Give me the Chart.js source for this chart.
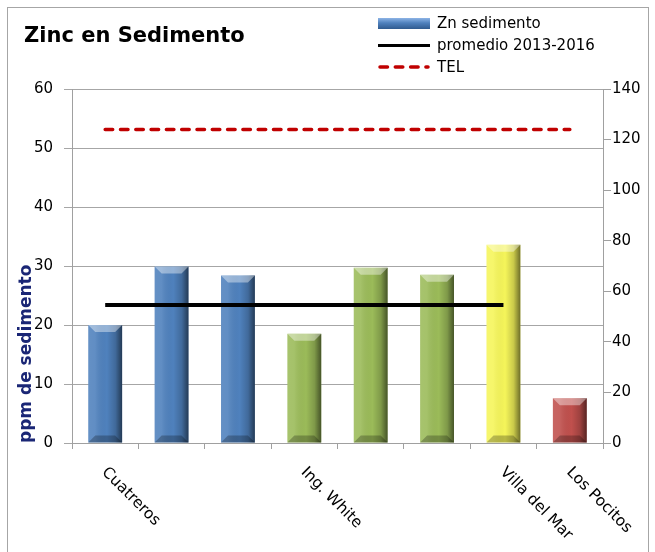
<!DOCTYPE html>
<html>
<head>
<meta charset="utf-8">
<script src="https://cdn.jsdelivr.net/npm/chart.js@4/dist/chart.umd.min.js"></script>
<style>
  body { margin: 0; background: #fff; }
  #wrap { position: relative; width: 655px; height: 552px; overflow: hidden; font-family: "DejaVu Sans", sans-serif; }
  #frame { position: absolute; left: 7px; top: 7px; width: 642px; height: 600px; border: 1px solid #a6a6a6; box-sizing: border-box; }
  #title { position: absolute; left: 24px; top: 23px; font: bold 21px "DejaVu Sans", sans-serif; color: #000; }
  #legend { position: absolute; left: 378px; top: 12px; font: 15px "DejaVu Sans", sans-serif; color: #000; }
  #legend .row { display: flex; align-items: center; height: 22px; }
  #legend .sw { width: 52px; height: 12px; margin-right: 7px; display: flex; align-items: center; }
  #legend .bar { width: 52px; height: 11px; background: linear-gradient(to bottom, #8db4e6, #4f81bd 45%, #2f5a8f); }
  #legend .solid { width: 52px; height: 3px; background: #000; }
  canvas { position: absolute; left: 0; top: 0; }
</style>
</head>
<body>
<div id="wrap">
  <div id="frame"></div>
  <canvas id="zinc-chart" width="655" height="552"></canvas>
  <div id="title">Zinc en Sedimento</div>
  <div id="legend">
    <div class="row"><span class="sw"><span class="bar"></span></span>Zn sedimento</div>
    <div class="row"><span class="sw"><span class="solid"></span></span>promedio 2013-2016</div>
    <div class="row"><span class="sw"><svg width="52" height="6"><line x1="2" y1="3" x2="50" y2="3" stroke="#c00000" stroke-width="3.5" stroke-linecap="round" stroke-dasharray="7.5 7.8"/></svg></span>TEL</div>
  </div>
</div>
<script>
const sites = ["Cuatreros", "", "", "Ing. White", "", "", "Villa del Mar", "Los Pocitos"];
const znSedimento = [20.0, 29.9, 28.4, 18.5, 29.7, 28.5, 33.6, 7.6];
const promedio = [23.4, 23.4, 23.4, 23.4, 23.4, 23.4, 23.4, null];
const tel = [124, 124, 124, 124, 124, 124, 124, 124];
const barColors = ["#4f81bd", "#4f81bd", "#4f81bd", "#9bbb59", "#9bbb59", "#9bbb59", "#f5f55a", "#c0504d"];

const FONT = '"DejaVu Sans", sans-serif';

// bevel look on top of each bar
const bevelPlugin = {
    id: "bevel",
    afterDatasetDraw(chart, args) {
        if (args.index !== 0) return;
        const ctx = chart.ctx;
        args.meta.data.forEach((bar) => {
            const left = bar.x - bar.width / 2;
            const right = bar.x + bar.width / 2;
            const top = bar.y;
            const bottom = bar.base;
            const b = 7;
            ctx.save();
            const g = ctx.createLinearGradient(left, 0, right, 0);
            g.addColorStop(0, "rgba(255,255,255,0.12)");
            g.addColorStop(0.2, "rgba(255,255,255,0.1)");
            g.addColorStop(0.55, "rgba(0,0,0,0)");
            g.addColorStop(0.8, "rgba(0,0,0,0.18)");
            g.addColorStop(1, "rgba(0,0,0,0.55)");
            ctx.fillStyle = g;
            ctx.fillRect(left, top, right - left, bottom - top);
            // top cap
            ctx.beginPath();
            ctx.moveTo(left, top);
            ctx.lineTo(right, top);
            ctx.lineTo(right - b, top + b);
            ctx.lineTo(left + b, top + b);
            ctx.closePath();
            ctx.fillStyle = "rgba(255,255,255,0.4)";
            ctx.fill();
            // bottom edge
            ctx.beginPath();
            ctx.moveTo(left, bottom);
            ctx.lineTo(right, bottom);
            ctx.lineTo(right - b, bottom - b);
            ctx.lineTo(left + b, bottom - b);
            ctx.closePath();
            ctx.fillStyle = "rgba(0,0,0,0.25)";
            ctx.fill();
            ctx.restore();
        });
    },
};

// slanted category labels, reading downwards from the tick
const slantedLabels = {
    id: "slantedLabels",
    afterDraw(chart) {
        const { ctx } = chart;
        const x = chart.scales.x;
        ctx.save();
        ctx.font = "15.5px " + FONT;
        ctx.fillStyle = "#000";
        ctx.textAlign = "left";
        ctx.textBaseline = "middle";
        sites.forEach((label, i) => {
            if (!label) return;
            ctx.save();
            ctx.translate(x.getPixelForValue(i) - 1, x.top + 27);
            ctx.rotate(Math.PI / 4);
            ctx.fillText(label, 0, 0);
            ctx.restore();
        });
        ctx.restore();
    },
};

new Chart(document.getElementById("zinc-chart"), {
    data: {
        labels: sites,
        datasets: [
            {
                type: "bar",
                label: "Zn sedimento",
                data: znSedimento,
                backgroundColor: barColors,
                barPercentage: 0.51,
                categoryPercentage: 1,
                yAxisID: "y",
                order: 2,
            },
            {
                type: "line",
                label: "promedio 2013-2016",
                data: promedio,
                borderColor: "#000",
                borderWidth: 4,
                pointRadius: 0,
                yAxisID: "y",
                order: 1,
            },
            {
                type: "line",
                label: "TEL",
                data: tel,
                borderColor: "#c00000",
                borderWidth: 3.5,
                borderDash: [7.5, 7.8],
                borderCapStyle: "round",
                pointRadius: 0,
                yAxisID: "y1",
                order: 0,
            },
        ],
    },
    options: {
        responsive: false,
        animation: false,
        layout: { padding: { top: 89, left: 0, right: 0, bottom: 0 } },
        plugins: {
            legend: { display: false },
            tooltip: { enabled: false },
        },
        scales: {
            x: {
                offset: true,
                ticks: { display: false },
                grid: { offset: true, drawOnChartArea: false, drawTicks: true, tickLength: 6, color: "#a0a0a0" },
                border: { color: "#a0a0a0" },
                afterFit: (s) => { s.height = 109; },
            },
            y: {
                position: "left",
                min: 0,
                max: 60,
                ticks: { stepSize: 10, color: "#000", padding: 11, font: { family: FONT, size: 15 } },
                grid: { color: "#a6a6a6", tickLength: 8 },
                border: { color: "#a0a0a0" },
                title: {
                    display: true,
                    text: "ppm de sedimento",
                    align: "start",
                    color: "#1a2675",
                    font: { family: FONT, size: 17, weight: "bold" },
                    padding: { top: 16, bottom: 0 },
                },
                afterFit: (s) => { s.width = 72; },
            },
            y1: {
                position: "right",
                min: 0,
                max: 140,
                ticks: { stepSize: 20, color: "#000", padding: 1, font: { family: FONT, size: 15 } },
                grid: { drawOnChartArea: false, tickLength: 8, color: "#a0a0a0" },
                border: { color: "#a0a0a0" },
                afterFit: (s) => { s.width = 52; },
            },
        },
    },
    plugins: [bevelPlugin, slantedLabels],
});
</script>
</body>
</html>
